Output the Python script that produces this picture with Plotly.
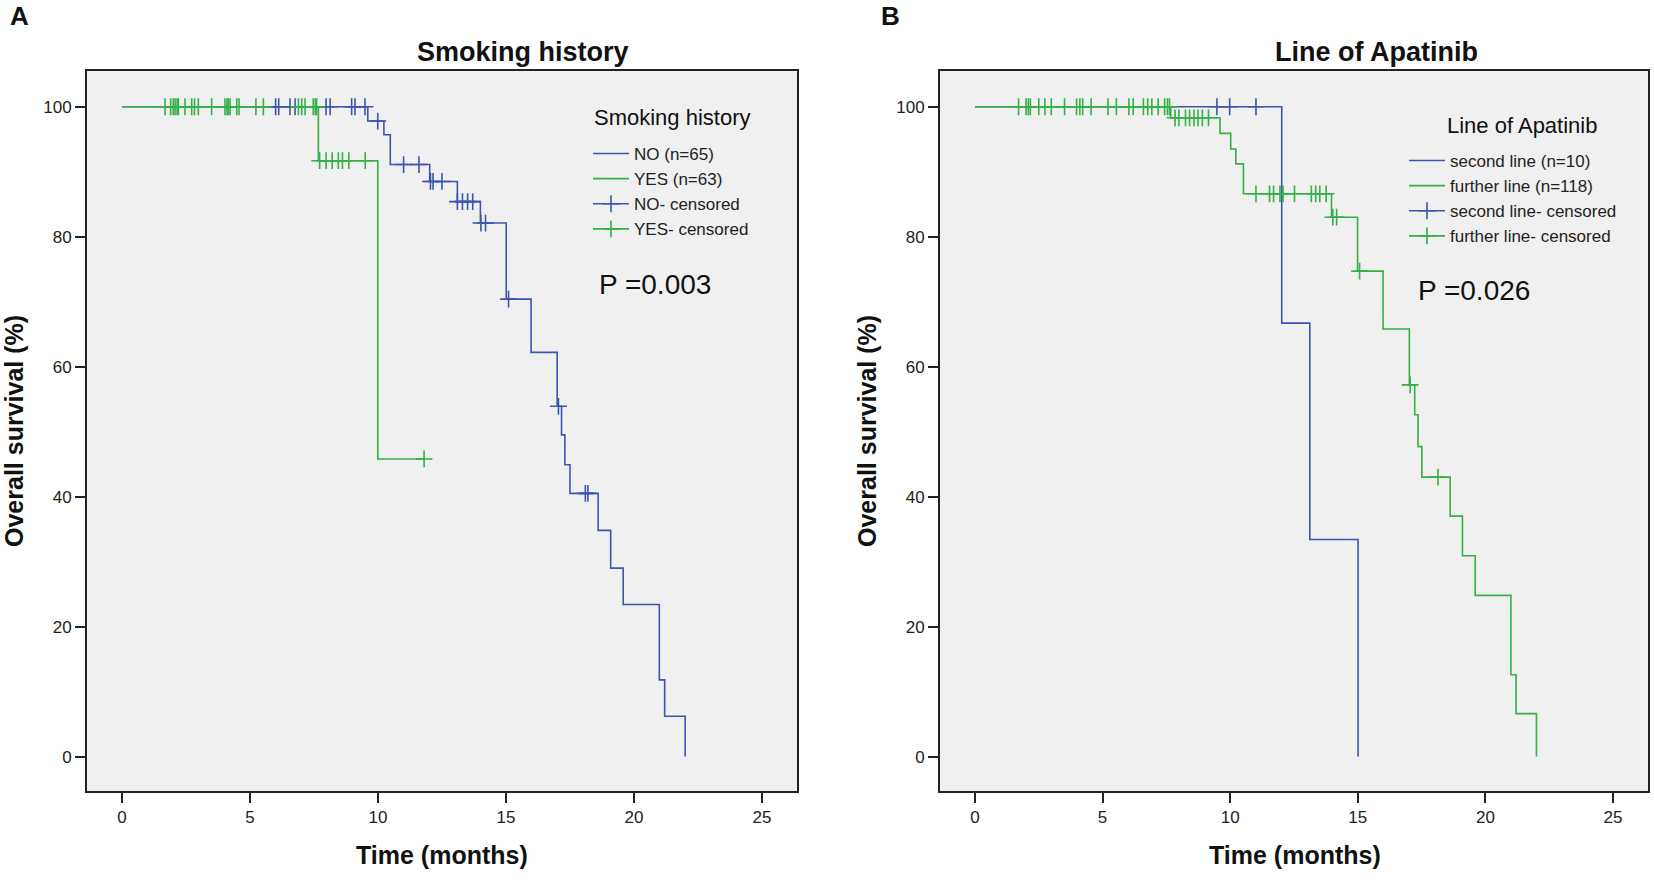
import plotly.graph_objects as go

W, H = 1654, 880

BLUE = '#3c55ae'
GREEN = '#34b046'
FONT = 'Liberation Sans, Arial, sans-serif'

# ---- Panel A: smoking history (Kaplan-Meier steps, % survival) ----
no_times = [0, 9.6, 10.23, 10.48, 12.02, 13.1, 14.0, 15.01, 15.98, 17.0, 17.17, 17.3,
            17.5, 18.6, 19.09, 19.58, 20.99, 21.2, 22.0]
no_surv = [100, 97.8, 95.7, 91.1, 88.5, 85.4, 82.1, 70.4, 62.2, 53.9, 49.5, 44.9,
           40.5, 34.8, 29.0, 23.4, 11.8, 6.2, 0]
no_censored = [6.0, 6.12, 6.56, 6.76, 7.97, 8.13, 8.97, 9.1, 9.49, 9.99, 11.0, 11.6,
               12.05, 12.15, 12.5, 13.1, 13.3, 13.5, 13.7, 14.02, 14.2, 15.1, 17.05,
               18.1, 18.2]

yes_times = [0, 7.67, 9.99, 11.8]
yes_surv = [100, 91.7, 45.8, 45.8]
yes_censored = [1.68, 1.9, 2.0, 2.07, 2.15, 2.2, 2.46, 2.72, 2.83, 2.98, 3.5, 4.02,
                4.1, 4.15, 4.22, 4.48, 4.57, 5.23, 5.52, 6.89, 7.02, 7.15, 7.47, 7.55,
                7.6, 7.72, 7.97, 8.21, 8.45, 8.61, 8.86, 9.5, 11.8]

# ---- Panel B: line of apatinib ----
second_times = [0, 12.02, 13.12, 15.01]
second_surv = [100, 66.7, 33.4, 0]
second_censored = [9.48, 9.98, 11.01]

further_times = [0, 7.67, 9.6, 10.02, 10.22, 10.52, 13.97, 14.99, 15.99, 17.02, 17.23,
                 17.36, 17.51, 18.62, 19.1, 19.6, 21.0, 21.2, 22.0]
further_surv = [100, 98.3, 95.9, 93.5, 91.2, 86.6, 83.0, 74.7, 65.8, 57.2, 52.6,
                47.7, 43.0, 37.0, 30.9, 24.8, 12.6, 6.6, 0]
further_censored = [1.71, 2.0, 2.09, 2.17, 2.5, 2.74, 2.99, 3.51, 3.98, 4.11, 4.22,
                    4.55, 5.21, 5.54, 6.03, 6.2, 6.6, 6.77, 6.93, 7.18, 7.43, 7.54,
                    7.62, 7.84, 7.99, 8.25, 8.41, 8.58, 8.74, 8.91, 9.15, 11.01, 11.54,
                    11.7, 11.95, 12.07, 12.52, 13.18, 13.35, 13.51, 13.76, 14.02,
                    14.17, 15.07, 17.05, 18.14]

x_ticks = [0, 5, 10, 15, 20, 25]
y_ticks = [0, 20, 40, 60, 80, 100]


def level_at(times, surv, t):
    level = surv[0]
    for ti, si in zip(times, surv):
        if ti <= t:
            level = si
    return level


def censor_xy(times, surv, cens):
    # isolated points (None between them) so only the marks show,
    # but the legend still draws the line through the cross
    xs, ys = [], []
    for t in cens:
        xs += [t, None]
        ys += [level_at(times, surv, t), None]
    return xs, ys


def px(x):
    return x / W


def py(y):
    return 1 - y / H


fig = go.Figure()


def add_group(times_a, surv_a, cens_a, name_a, times_b, surv_b, cens_b, name_b, xa, ya, leg):
    # curves first, censor marks on top
    for t, s, name, col in [(times_a, surv_a, name_a, BLUE), (times_b, surv_b, name_b, GREEN)]:
        fig.add_trace(go.Scatter(x=t, y=s, mode='lines', line=dict(color=col, width=1.6, shape='hv'),
                                 name=name, xaxis=xa, yaxis=ya, legend=leg))
    for t, s, c, name, col in [(times_a, surv_a, cens_a, name_a.split(' (')[0], BLUE),
                               (times_b, surv_b, cens_b, name_b.split(' (')[0], GREEN)]:
        cx, cy = censor_xy(t, s, c)
        fig.add_trace(go.Scatter(x=cx, y=cy, mode='lines+markers',
                                 line=dict(color=col, width=1.6),
                                 marker=dict(symbol='cross-thin', size=12,
                                             line=dict(color=col, width=1.6)),
                                 name=name + '- censored', xaxis=xa, yaxis=ya, legend=leg))


add_group(no_times, no_surv, no_censored, 'NO (n=65)',
          yes_times, yes_surv, yes_censored, 'YES (n=63)', 'x', 'y', 'legend')
add_group(second_times, second_surv, second_censored, 'second line (n=10)',
          further_times, further_surv, further_censored, 'further line (n=118)', 'x2', 'y2', 'legend2')

axis_common = dict(showgrid=False, zeroline=False, showline=True, mirror=True,
                   linecolor='#222', linewidth=2, ticks='outside', ticklen=10,
                   tickwidth=1.6, tickcolor='#222',
                   tickfont=dict(family=FONT, size=17, color='#222'))

legend_common = dict(xanchor='left', yanchor='top', bgcolor='rgba(0,0,0,0)',
                     font=dict(family=FONT, size=17, color='#222'), tracegroupgap=0,
                     itemwidth=36)

fig.update_layout(
    width=W, height=H,
    margin=dict(l=0, r=0, t=0, b=0),
    paper_bgcolor='white',
    plot_bgcolor='#f0f0f0',
    font=dict(family=FONT, color='#222'),
    xaxis=dict(domain=[px(87), px(797)], range=[-1.37, 26.37], tickvals=x_ticks, anchor='y', **axis_common),
    yaxis=dict(domain=[py(791), py(71)], range=[-5.3, 105.5], tickvals=y_ticks, anchor='x', **axis_common),
    xaxis2=dict(domain=[px(940), px(1648)], range=[-1.37, 26.37], tickvals=x_ticks, anchor='y2', **axis_common),
    yaxis2=dict(domain=[py(791), py(71)], range=[-5.3, 105.5], tickvals=y_ticks, anchor='x2', **axis_common),
    legend=dict(x=px(588), y=py(136), **legend_common),
    legend2=dict(x=px(1404), y=py(143), **legend_common),
    showlegend=True,
)

annots = [
    ('A', 8, 16, 26, True, 0, 'left'),
    ('B', 879, 16, 26, True, 0, 'left'),
    ('Smoking history', 523, 52, 27, True, 0, 'center'),
    ('Line of Apatinib', 1376, 52, 27, True, 0, 'center'),
    ('Overall survival (%)', 14, 431, 25, True, -90, 'center'),
    ('Overall survival (%)', 867, 431, 25, True, -90, 'center'),
    ('Time (months)', 442, 855, 25, True, 0, 'center'),
    ('Time (months)', 1295, 855, 25, True, 0, 'center'),
    ('P =0.003', 655, 284, 28, False, 0, 'center'),
    ('P =0.026', 1474, 290, 28, False, 0, 'center'),
    # legend titles
    ('Smoking history', 672, 118, 22, False, 0, 'center'),
    ('Line of Apatinib', 1522, 125, 22, False, 0, 'center'),
]
for text, x, y, size, bold, angle, anchor in annots:
    fig.add_annotation(text=f'<b>{text}</b>' if bold else text, x=px(x), y=py(y),
                       xref='paper', yref='paper', xanchor=anchor, yanchor='middle',
                       showarrow=False, textangle=angle,
                       font=dict(family=FONT, size=size, color='#111'))

fig.write_html('out.html', config={'displayModeBar': False},
               post_script="document.body.style.margin='0';")
